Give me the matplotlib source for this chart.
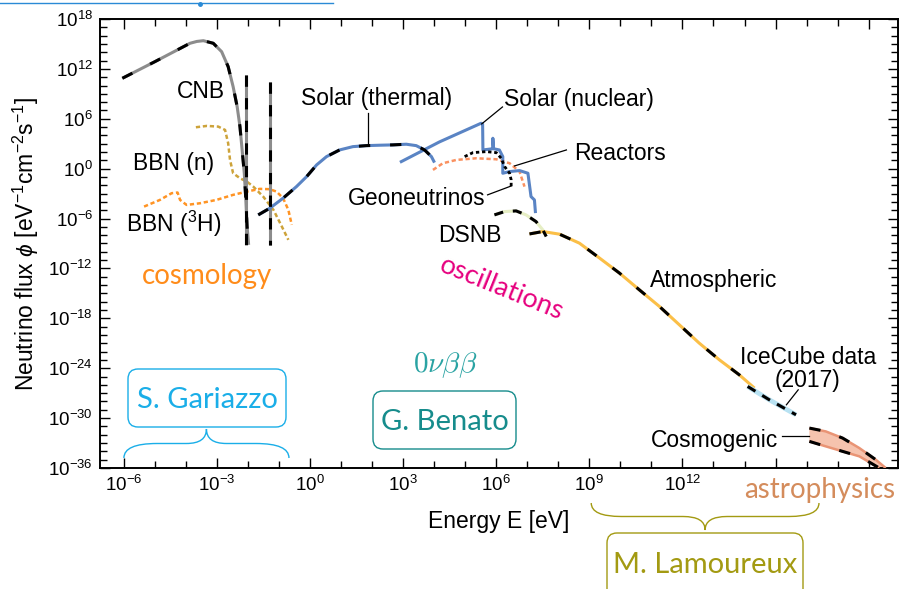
import numpy as np
import matplotlib.pyplot as plt
import matplotlib.transforms as mtransforms
from matplotlib.patches import FancyBboxPatch, PathPatch
from matplotlib.path import Path
from matplotlib.lines import Line2D
from matplotlib.ticker import FixedLocator, FixedFormatter

plt.rcParams['font.family'] = ['Liberation Sans', 'DejaVu Sans']
plt.rcParams['mathtext.fontset'] = 'custom'
plt.rcParams['mathtext.rm'] = 'Liberation Sans'
plt.rcParams['mathtext.it'] = 'Liberation Sans:italic'
plt.rcParams['mathtext.bf'] = 'Liberation Sans:bold'

# all values are log10(E / eV) and log10(flux)
cnb_E = [-6.05, -5.0, -3.87, -3.65, -3.44, -3.12, -2.85, -2.64, -2.48, -2.35, -2.26, -2.18, -2.12, -2.07, -2.03, -1.98]
cnb_F = [10.87, 12.87, 15.08, 15.30, 15.39, 15.08, 14.07, 12.27, 9.86, 7.46, 5.06, 1.86, -0.55, -3.75, -6.96, -9.16]

mass_E = [-2.08, -1.30]
mass_top = [11.27, 10.46]
mass_bottom = -9.16

bbn_n_E = [-3.68, -3.33, -2.96, -2.74, -2.64, -2.58, -2.48, -2.26, -2.04, -1.83, -1.51, -1.18, -0.91, -0.70]
bbn_n_F = [4.98, 5.14, 5.06, 4.66, 3.06, 1.05, -0.55, -1.15, -1.55, -2.16, -3.36, -4.96, -6.96, -8.56]

bbn_h_E = [-5.35, -4.84, -4.46, -4.27, -4.19, -3.98, -3.55, -3.02, -2.48, -2.04, -1.62, -1.30, -1.08, -0.87, -0.70, -0.59]
bbn_h_F = [-4.56, -3.76, -2.95, -2.87, -3.76, -4.36, -4.16, -3.76, -3.15, -2.76, -2.43, -2.47, -2.76, -3.55, -4.96, -6.76]

sol_th_E = [-1.67, -1.30, -0.87, -0.44, -0.11, 0.21, 0.53, 0.95, 1.38, 1.81, 2.24, 2.67, 3.10, 3.42, 3.69, 3.91, 4.01]
sol_th_F = [-5.56, -4.76, -3.55, -2.16, -0.95, 0.45, 1.45, 2.25, 2.65, 2.77, 2.82, 2.86, 2.94, 2.77, 2.25, 1.45, 0.73]

sol_nu_E = [2.94, 4.17, 5.51, 5.56, 5.57, 5.89, 5.89, 5.91, 6.10, 6.21, 6.21, 6.43, 6.75, 7.02, 7.12, 7.23, 7.26]
sol_nu_F = [0.85, 3.22, 5.46, 5.38, 2.25, 2.40, 3.66, 2.40, 2.25, 1.45, -0.55, -0.35, -0.23, -0.55, -3.36, -3.76, -5.16]

reac_E = [3.96, 4.28, 4.71, 5.35, 6.00, 6.43, 6.75, 6.91]
reac_F = [-0.15, 0.65, 1.05, 1.25, 1.13, 0.65, -0.35, -2.16]

geo_E = [4.98, 5.25, 5.68, 6.00, 6.16, 6.27, 6.43, 6.48, 6.48]
geo_F = [1.45, 1.93, 2.05, 1.93, 1.25, 0.25, -0.55, -1.35, -2.35]

dsnb_E = [5.94, 6.27, 6.64, 6.96, 7.28, 7.50, 7.61]
dsnb_F = [-5.56, -5.16, -5.08, -5.56, -6.36, -7.36, -8.16]

atm_E = [7.07, 7.50, 8.04, 8.68, 9.33, 9.97, 10.61, 11.26, 11.90, 12.54, 13.19, 13.83, 14.32]
atm_F = [-7.85, -7.56, -7.88, -8.96, -10.76, -12.56, -14.57, -16.58, -18.78, -20.98, -22.99, -24.79, -26.39]

ice_E = [14.10, 14.80, 15.66]
ice_F = [-26.19, -27.80, -29.60]

cosmo_up_E = [16.09, 16.62, 17.16, 17.70, 18.23, 18.55]
cosmo_up_F = [-31.2, -31.6, -32.4, -33.6, -35.0, -36.0]
cosmo_lo_E = [16.09, 16.62, 17.16, 17.70, 18.07, 18.34]
cosmo_lo_F = [-32.8, -33.4, -34.0, -34.6, -35.4, -36.0]

# energy ranges covered by the speakers' braces (log10 E)
gariazzo_range = [-6.0, -0.68]
lamoureux_range = [9.06, 16.4]

x_major = list(range(-6, 19, 3))
x_labeled = list(range(-6, 13, 3))
y_major = list(range(-36, 19, 6))


def L(v):
    return 10.0 ** np.asarray(v, dtype=float)


fig = plt.figure(figsize=(8.99, 5.89), dpi=100)
W, H = 899, 589
ax = fig.add_axes([100 / W, 1 - 468 / H, 797.5 / W, 449 / H])
ax.set_xscale('log')
ax.set_yscale('log')
ax.set_xlim(10 ** -6.77, 10 ** 18.93)
ax.set_ylim(1e-36, 1e18)

# pixel transforms (top-left origin / bottom-left origin)
pix = mtransforms.Affine2D().scale(1 / W, -1 / H).translate(0, 1) + fig.transFigure
pix_up = mtransforms.Affine2D().scale(1 / W, 1 / H) + fig.transFigure

LW = 2.2
long_dash = (3.7, 6.5)


def dashed(x, y, color, lw=LW, dashes=long_dash, dlw=None):
    ax.plot(L(x), L(y), color=color, lw=lw, solid_capstyle='butt', zorder=3)
    ax.plot(L(x), L(y), color='black', lw=dlw or LW, dashes=dashes,
            dash_capstyle='butt', zorder=4)


# CNB and neutrino mass lines
dashed(cnb_E, cnb_F, '#8c8c8c')
for e, t in zip(mass_E, mass_top):
    dashed([e, e], [t, mass_bottom], '#8c8c8c', dashes=(3.7, 3.7))

# BBN
ax.plot(L(bbn_n_E), L(bbn_n_F), color='#cda33a', lw=1.8, dashes=(1.7, 1.1), zorder=2)
ax.plot(L(bbn_h_E), L(bbn_h_F), color='#ff9424', lw=1.8, dashes=(1.7, 1.1), zorder=2)

# Solar
dashed(sol_th_E, sol_th_F, '#5a84c4')
ax.plot(L(sol_nu_E), L(sol_nu_F), color='#5a84c4', lw=LW, zorder=3)

# Reactors and geoneutrinos
ax.plot(L(reac_E), L(reac_F), color='#fa9160', lw=1.8, dashes=(1.7, 1.1), zorder=2)
ax.plot(L(geo_E), L(geo_F), color='black', lw=2.0, dashes=(1.2, 1.0), zorder=4)

# DSNB, atmospheric, IceCube
dashed(dsnb_E, dsnb_F, '#e6eec4', dashes=(3.0, 3.2))
dashed(atm_E, atm_F, '#fbbf47')
dashed(ice_E, ice_F, '#b8e2f2', lw=3.4, dashes=(3.0, 2.6))

# Cosmogenic band
poly_x = L(cosmo_up_E + cosmo_lo_E[::-1])
poly_y = L(cosmo_up_F + cosmo_lo_F[::-1])
ax.fill(poly_x, poly_y, color='#f6c3ae', lw=0, zorder=2)
dashed(cosmo_up_E, cosmo_up_F, '#e99475', lw=1.8)
dashed(cosmo_lo_E, cosmo_lo_F, '#e99475', lw=1.8)

# axes styling
ax.xaxis.set_major_locator(FixedLocator(L(x_major)))
ax.xaxis.set_major_formatter(FixedFormatter(
    [r'$10^{%d}$' % v if v in x_labeled else '' for v in x_major]))
ax.xaxis.set_minor_locator(FixedLocator(L(range(-6, 19))))
ax.yaxis.set_major_locator(FixedLocator(L(y_major)))
ax.yaxis.set_major_formatter(FixedFormatter([r'$10^{%d}$' % v for v in y_major]))
ax.yaxis.set_minor_locator(FixedLocator(L(range(-36, 19))))
ax.xaxis.set_minor_formatter(FixedFormatter([]))
ax.yaxis.set_minor_formatter(FixedFormatter([]))
ax.tick_params(which='both', direction='in', top=True, right=True, width=1.0,
               labelsize=13.5, pad=5)
ax.tick_params(which='major', length=7)
ax.tick_params(which='minor', length=5)
for s in ax.spines.values():
    s.set_linewidth(1.4)

ax.set_xlabel('Energy E [eV]', fontsize=16.5, labelpad=11)
ax.set_ylabel(r'Neutrino flux $\phi$ [eV$^{-1}$cm$^{-2}$s$^{-1}$]', fontsize=16.5, labelpad=5)

# curve labels
labels = [
    ('CNB', 201, 98), ('BBN (n)', 174, 170), ('BBN ($^3$H)', 174, 232),
    ('Solar (thermal)', 377, 105), ('Solar (nuclear)', 579, 106),
    ('Reactors', 620, 160), ('Geoneutrinos', 417, 205), ('DSNB', 470, 241.5),
    ('Atmospheric', 714, 286.5), ('IceCube data', 808, 364), ('(2017)', 808, 386.5),
    ('Cosmogenic', 714, 447),
]
for txt, x, y in labels:
    ax.text(x, y, txt, transform=pix, fontsize=16.5, ha='center', va='baseline', zorder=6)

leaders = [
    ([1.856, 1.856], [6.70, 2.86]),
    ([6.20, 5.53], [7.42, 5.38]),
    ([8.26, 6.59], [2.25, 0.33]),
    ([5.72, 6.49], [-3.15, -2.07]),
    ([15.73, 15.35], [-26.6, -28.4]),
    ([15.22, 16.09], [-32.2, -32.2]),
]
for xs, ys in leaders:
    ax.plot(L(xs), L(ys), color='black', lw=0.9, zorder=5)

# topic words
ax.text(207, 284, 'cosmology', transform=pix, fontsize=20, family='Lato',
        color='#ff8c1a', ha='center', va='baseline')
ax.text(499, 296, 'oscillations', transform=pix, fontsize=19.5, family='Lato',
        color='#e6007e', ha='center', va='baseline', rotation=-22,
        rotation_mode='anchor')
ax.text(445, 372, r'$0\nu\beta\beta$', transform=pix, fontsize=21, math_fontfamily='cm',
        color='#2aa3a3', ha='center', va='baseline')
ax.text(820, 498, 'astrophysics', transform=pix, fontsize=20, family='Lato',
        color='#d48c5c', ha='center', va='baseline', zorder=7, clip_on=False)

# speaker boxes
boxes = [
    ('S. Gariazzo', 128, 369, 286, 427, 408, '#1aaee8'),
    ('G. Benato', 373, 391, 516, 449, 430, '#168c8c'),
    ('M. Lamoureux', 607, 533, 803, 600, 573, '#a39a12'),
]
for name, x0, y0, x1, y1, yb, col in boxes:
    fig.add_artist(FancyBboxPatch((x0, H - y1), x1 - x0, y1 - y0,
                                  boxstyle='round,pad=0,rounding_size=10',
                                  transform=pix_up, fc='white', ec=col, lw=1.0))
    fig.text((x0 + x1) / 2, yb, name, transform=pix, fontsize=21, family='Lato',
             color=col, ha='center', va='baseline')


def brace(x0, x1, y_end, y_tip, w1, w2, col):
    ym = (y_end + y_tip) / 2
    xm = (x0 + x1) / 2
    verts = [(x0, y_end), (x0, ym), (x0 + w1, ym), (xm - w2, ym), (xm, ym), (xm, y_tip),
             (xm, ym), (xm + w2, ym), (x1 - w1, ym), (x1, ym), (x1, y_end)]
    codes = [Path.MOVETO, Path.CURVE3, Path.CURVE3, Path.LINETO, Path.CURVE3, Path.CURVE3,
             Path.CURVE3, Path.CURVE3, Path.LINETO, Path.CURVE3, Path.CURVE3]
    fig.add_artist(PathPatch(Path(verts, codes), transform=pix, fc='none', ec=col, lw=1.0))


def x_px(logE):
    return ax.transData.transform((10.0 ** logE, 1.0))[0] * W / fig.bbox.width


brace(x_px(gariazzo_range[0]), x_px(gariazzo_range[1]), 458, 429, 33, 20, '#1aaee8')
brace(x_px(lamoureux_range[0]), x_px(lamoureux_range[1]), 503, 530, 30, 22, '#a39a12')

# slide header rule
fig.add_artist(Line2D([0, 333], [3, 3], transform=pix, color='#2a8ad6', lw=1.0))
fig.add_artist(Line2D([200], [3.5], transform=pix, color='#2a8ad6', marker='o', ms=2.5))

fig.savefig('out.png', dpi=100)
